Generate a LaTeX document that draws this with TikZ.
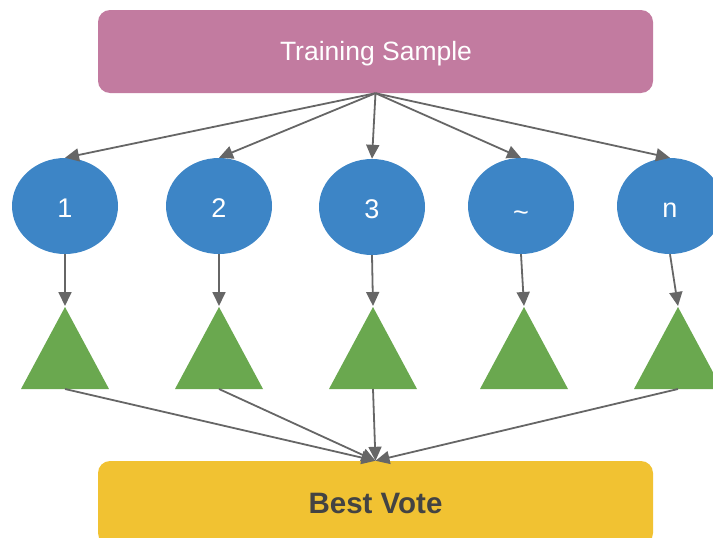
\documentclass[tikz,border=0pt]{standalone}
\usepackage{fontspec}
\setmainfont{Liberation Sans}
\usetikzlibrary{shapes.geometric,arrows.meta}
\definecolor{boxpink}{HTML}{C27BA0}
\definecolor{treeblue}{HTML}{3D85C6}
\definecolor{leafgreen}{HTML}{6AA84F}
\definecolor{voteyellow}{HTML}{F1C232}
\definecolor{votetext}{HTML}{434343}
\definecolor{linkgray}{HTML}{666666}
% label baseline placed a fixed distance below the ellipse centre
\newcommand{\treelabel}[2][-11.5pt]{\raisebox{#1}{#2}}
\tikzset{
  bar/.style={rounded corners=12pt, minimum width=555pt, minimum height=83pt, inner sep=0pt},
  tree/.style={ellipse, fill=treeblue, minimum width=106pt, minimum height=96pt, inner sep=0pt,
    text height=0pt, text depth=0pt, text=white, font=\fontsize{27}{30}\selectfont},
  link/.style={draw=linkgray, line width=1.8pt, -{Triangle[length=14pt,width=13pt]}},
}
\begin{document}
\begin{tikzpicture}[x=1pt,y=-1pt]
\useasboundingbox (0,0) rectangle (713,538);

% source and result bars
\node[bar, fill=boxpink] (ts) at (375.5,51.5) {};
\node[text=white, font=\fontsize{26.5}{30}\selectfont] (tslabel) at (376,54) {Training Sample};
\node[bar, fill=voteyellow, text=votetext, font=\fontsize{29.5}{33}\selectfont\bfseries, minimum height=84pt] (bv) at (375.5,503) {Best Vote};

% trees
\node[tree] (e1) at (65,206) {\treelabel{1}};
\node[tree] (e2) at (219,206) {\treelabel{2}};
\node[tree] (e3) at (372,207) {\treelabel{3}};
\node[tree] (e4) at (521,206) {\treelabel[-15pt]{\char"007E}};
\node[tree] (e5) at (670,206) {\treelabel[-11pt]{n}};

% leaves
\foreach \i/\x in {1/65,2/219,3/373,4/524,5/678}{
  \fill[leafgreen] (\x-44,389) -- (\x,307) -- (\x+44,389) -- cycle;
  \coordinate (ta\i) at (\x,306);
  \coordinate (tb\i) at (\x,389);
}

% connectors
\foreach \i in {1,...,5}{
  \draw[link] (ts.south) -- (e\i.north);
  \draw[link] (e\i.south) -- (ta\i);
}
\foreach \i in {1,2,3,5}{
  \draw[link] (tb\i) -- (bv.north);
}
\end{tikzpicture}
\end{document}
